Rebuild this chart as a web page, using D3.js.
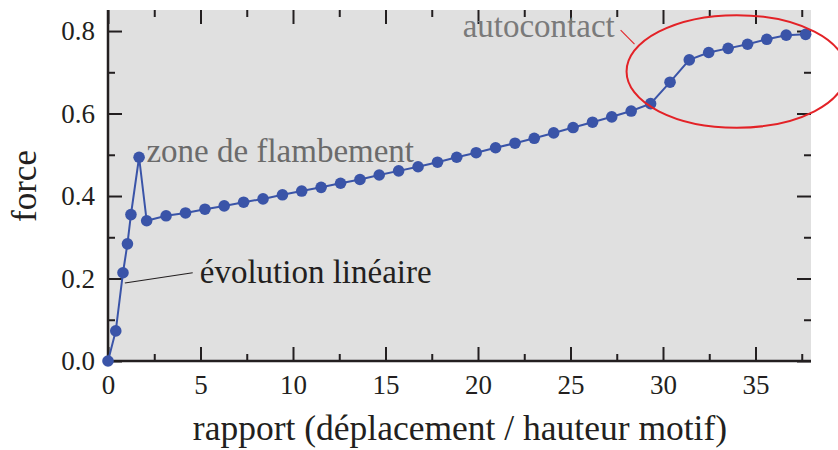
<!DOCTYPE html>
<html>
<head>
<meta charset="utf-8">
<script src="https://cdn.jsdelivr.net/npm/d3@7"></script>
<style>
	body { margin: 0; background: #fff; }
	svg text { font-family: "Liberation Serif", "Times New Roman", serif; }
</style>
</head>
<body>
<div class="graphic"></div>
<script>
// rapport (deplacement / hauteur motif)
var rapport = [0, 0.42, 0.81, 1.05, 1.24, 1.68,
	2.09, 3.14, 4.19, 5.24, 6.28, 7.33, 8.38, 9.43, 10.47, 11.52,
	12.57, 13.62, 14.66, 15.71, 16.76, 17.81, 18.85, 19.90, 20.95, 22.00,
	23.04, 24.09, 25.14, 26.19, 27.23, 28.28, 29.33, 30.38, 31.42, 32.47,
	33.52, 34.57, 35.61, 36.66, 37.71];
var force = [0, 0.073, 0.214, 0.284, 0.355, 0.494,
	0.340, 0.352, 0.359, 0.368, 0.376, 0.385, 0.393, 0.403, 0.412, 0.421,
	0.431, 0.440, 0.451, 0.461, 0.471, 0.482, 0.494, 0.505, 0.517, 0.528,
	0.540, 0.553, 0.566, 0.579, 0.592, 0.606, 0.624, 0.676, 0.730, 0.748,
	0.758, 0.768, 0.780, 0.790, 0.792];

var xTicks = [0, 5, 10, 15, 20, 25, 30, 35];
var xMinor = [2.5, 7.5, 12.5, 17.5, 22.5, 27.5, 32.5, 37.5];
var yTicks = [0, 0.2, 0.4, 0.6, 0.8];
var yMinor = [0.1, 0.3, 0.5, 0.7];

var xLabel = 'rapport (déplacement / hauteur motif)';
var yLabel = 'force';

// annotations: text, anchor point (data units)
var notes = [
	{text: 'zone de flambement', x: 2.08, y: 0.483, color: '#6b6b6b'},
	{text: 'évolution linéaire', x: 4.96, y: 0.189, color: '#231f20'},
	{text: 'autocontact', x: 19.17, y: 0.786, color: '#7a7a7a'}
];
var leaders = [
	{x1: 0.91, y1: 0.189, x2: 4.58, y2: 0.214, color: '#231f20'},
	{x1: 27.71, y1: 0.802, x2: 28.46, y2: 0.768, color: '#e32227'}
];
var contactZone = {cx: 33.98, cy: 0.702, rx: 5.95, ry: 0.1365};

var W = 838, H = 450;
var margin = {top: 10, right: 27, bottom: 89, left: 108};
var width = W - margin.left - margin.right,
	height = H - margin.top - margin.bottom;

var svg = d3.select('.graphic').append('svg')
	.attr('width', W)
	.attr('height', H);

var chart = svg.append('g')
	.attr('transform', 'translate(' + margin.left + ',' + margin.top + ')');

var scaleX = d3.scaleLinear().domain([0, 38]).range([0, width]);
var scaleY = d3.scaleLinear().domain([0, 0.851]).range([height, 0]);

chart.append('rect')
	.attr('width', width)
	.attr('height', height)
	.attr('fill', '#e0e0e0');

// ticks on all four sides, inward
function tickAxis(axisFn, scale, vals, size, tr, labels) {
	var ax = axisFn(scale).tickValues(vals).tickSizeInner(-size).tickSizeOuter(0);
	if (labels) ax.tickPadding(size + 12);
	else ax.tickFormat('');
	var g = chart.append('g').attr('transform', tr).call(ax);
	g.select('.domain').remove();
	g.selectAll('.tick line').attr('stroke', '#231f20').attr('stroke-width', 2);
	return g;
}

var bx = tickAxis(d3.axisBottom, scaleX, xTicks, 14, 'translate(0,' + height + ')', true);
bx.selectAll('text').attr('font-size', 27).attr('fill', '#231f20')
	.attr('dy', 0).attr('y', 33);
tickAxis(d3.axisBottom, scaleX, xMinor, 7, 'translate(0,' + height + ')', false);
tickAxis(d3.axisTop, scaleX, xTicks, 14, 'translate(0,0)', false);
tickAxis(d3.axisTop, scaleX, xMinor, 7, 'translate(0,0)', false);

var ly = tickAxis(d3.axisLeft, scaleY, yTicks, 14, 'translate(0,0)', true);
ly.call(function(g) {
	g.selectAll('text').text(function(d) { return d3.format('.1f')(d); })
		.attr('font-size', 27).attr('fill', '#231f20')
		.attr('x', -13).attr('dy', '0.33em');
});
tickAxis(d3.axisLeft, scaleY, yMinor, 7, 'translate(0,0)', false);
tickAxis(d3.axisRight, scaleY, yTicks, 14, 'translate(' + width + ',0)', false);
tickAxis(d3.axisRight, scaleY, yMinor, 7, 'translate(' + width + ',0)', false);

// left and bottom axis lines
chart.append('line')
	.attr('x1', 0).attr('x2', 0).attr('y1', 0).attr('y2', height)
	.attr('stroke', '#231f20').attr('stroke-width', 2.5);
chart.append('line')
	.attr('x1', 0).attr('x2', width).attr('y1', height).attr('y2', height)
	.attr('stroke', '#231f20').attr('stroke-width', 2.5);

// axis titles
svg.append('text')
	.attr('x', 460)
	.attr('y', 440)
	.attr('text-anchor', 'middle')
	.attr('font-size', 35.5)
	.attr('fill', '#231f20')
	.text(xLabel);

svg.append('text')
	.attr('transform', 'translate(36,186) rotate(-90)')
	.attr('text-anchor', 'middle')
	.attr('font-size', 35)
	.attr('fill', '#231f20')
	.text(yLabel);

// data
var pts = rapport.map(function(d, i) { return [d, force[i]]; });

chart.append('path')
	.datum(pts)
	.attr('fill', 'none')
	.attr('stroke', '#3a54a8')
	.attr('stroke-width', 2)
	.attr('d', d3.line()
		.x(function(d) { return scaleX(d[0]); })
		.y(function(d) { return scaleY(d[1]); }));

chart.selectAll('.dot')
	.data(pts)
	.enter().append('circle')
	.attr('class', 'dot')
	.attr('cx', function(d) { return scaleX(d[0]); })
	.attr('cy', function(d) { return scaleY(d[1]); })
	.attr('r', 5.8)
	.attr('fill', '#3a54a8');

// annotations
chart.selectAll('.leader')
	.data(leaders)
	.enter().append('line')
	.attr('class', 'leader')
	.attr('x1', function(d) { return scaleX(d.x1); })
	.attr('y1', function(d) { return scaleY(d.y1); })
	.attr('x2', function(d) { return scaleX(d.x2); })
	.attr('y2', function(d) { return scaleY(d.y2); })
	.attr('stroke', function(d) { return d.color; })
	.attr('stroke-width', 1.1);

chart.selectAll('.note')
	.data(notes)
	.enter().append('text')
	.attr('class', 'note')
	.attr('x', function(d) { return scaleX(d.x); })
	.attr('y', function(d) { return scaleY(d.y); })
	.attr('font-size', 33)
	.attr('fill', function(d) { return d.color; })
	.text(function(d) { return d.text; });

chart.append('ellipse')
	.attr('cx', scaleX(contactZone.cx))
	.attr('cy', scaleY(contactZone.cy))
	.attr('rx', scaleX(contactZone.rx) - scaleX(0))
	.attr('ry', scaleY(0) - scaleY(contactZone.ry))
	.attr('fill', 'none')
	.attr('stroke', '#e32227')
	.attr('stroke-width', 2);
</script>
</body>
</html>
